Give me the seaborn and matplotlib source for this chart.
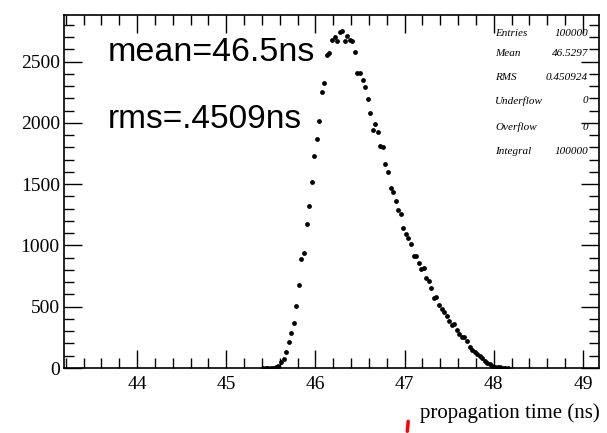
import numpy as np
import pandas as pd
import seaborn as sns
import matplotlib.pyplot as plt
from matplotlib.lines import Line2D
from matplotlib.ticker import MultipleLocator

# histogram binning: 210 bins over [43.2, 49.2]
nBins = 210
xLow, xHigh = 43.2, 49.2
firstBin = 77  # first non-empty bin

counts = [1, 1, 2, 3, 4, 8, 16, 48, 76, 128, 214, 289, 367, 506, 677, 891, 940,
          1174, 1321, 1514, 1732, 1865, 2012, 2254, 2327, 2550, 2572,
          2675, 2697, 2664, 2743, 2749, 2664, 2708, 2675, 2664, 2577,
          2406, 2409, 2347, 2292, 2194, 2082, 1941, 1988, 1925, 1811,
          1800, 1664, 1598, 1466, 1433, 1365, 1289, 1256, 1144, 1090,
          1060, 1009, 911, 911, 854, 810, 816, 732, 710, 650,
          571, 582, 516, 479, 459, 427, 383, 353, 356, 310,
          280, 255, 250, 220, 174, 147, 130, 117, 98, 79,
          60, 42, 30, 20, 12, 8, 5, 3, 2, 1]

statNames = ["Entries", "Mean", "RMS", "Underflow", "Overflow", "Integral"]
statValues = ["100000", "46.5297", "0.450924", "0", "0", "100000"]
meanText = "mean=46.5ns"
rmsText = "rms=.4509ns"
xTitle = "propagation time (ns)"

edges = np.linspace(xLow, xHigh, nBins + 1)
centers = 0.5 * (edges[:-1] + edges[1:])
df = pd.DataFrame({"t": centers[firstBin:firstBin + len(counts)], "n": counts})

sns.set_style("ticks")
plt.rcParams['font.family'] = ['Liberation Serif', 'DejaVu Serif']
plt.rcParams['text.color'] = 'black'

fig = plt.figure(figsize=(6.07, 4.33), dpi=100)
ax = fig.add_axes([0.1054, 0.1501, 0.8814, 0.8153])

sns.scatterplot(data=df, x="t", y="n", color="black", s=12, edgecolor=None,
                linewidth=0, ax=ax)

ax.set_xlim(43.18, 49.18)
ax.set_ylim(0, 2880)
ax.xaxis.set_major_locator(MultipleLocator(1))
ax.xaxis.set_minor_locator(MultipleLocator(0.2))
ax.yaxis.set_major_locator(MultipleLocator(500))
ax.yaxis.set_minor_locator(MultipleLocator(100))
ax.tick_params(which="both", direction="in", top=True, right=True,
               labelsize=14, width=1, color="black", labelcolor="black")
ax.tick_params(which="major", length=13)
ax.tick_params(which="minor", length=7)
ax.tick_params(axis="x", pad=6)
ax.tick_params(axis="y", pad=3)
for s in ax.spines.values():
    s.set_linewidth(1.2)
    s.set_color("black")

ax.set_xlabel("")
ax.set_ylabel("")
fig.text(0.988, 0.035, xTitle, ha="right", va="baseline", fontsize=15)

sansFam = ["Liberation Sans", "DejaVu Sans"]
ax.text(0.082, 0.895, meanText, transform=ax.transAxes, fontsize=24.5,
        family=sansFam, va="center", ha="left")
ax.text(0.082, 0.703, rmsText, transform=ax.transAxes, fontsize=24,
        family=sansFam, va="center", ha="left")

# stats box
rowY = [33, 54, 78, 101, 127, 151]
for name, val, py in zip(statNames, statValues, rowY):
    fig.text(495 / 607, 1 - py / 433, name, ha="left", va="center",
             fontsize=8, style="italic")
    fig.text(588 / 607, 1 - py / 433, val, ha="right", va="center",
             fontsize=8, style="italic")

# small red mark below the axis
fig.add_artist(Line2D([0.6725, 0.6710], [0.027, 0.004], color="red", lw=2.5,
                      transform=fig.transFigure))

fig.savefig("out.png", dpi=100)
